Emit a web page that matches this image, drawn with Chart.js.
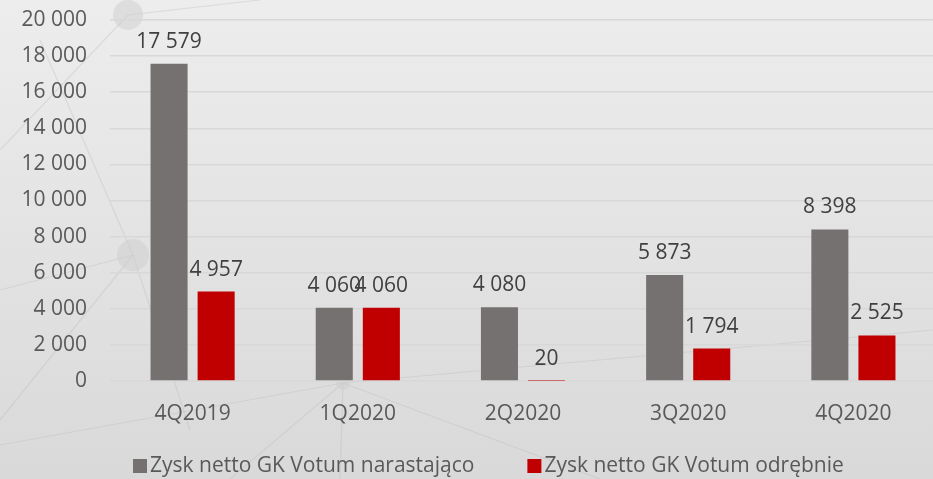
<!DOCTYPE html>
<html>
<head>
<meta charset="utf-8">
<script src="https://cdn.jsdelivr.net/npm/chart.js@4"></script>
<style>
  html, body { margin: 0; padding: 0; overflow: hidden; background: #e6e6e6; }
  #wrap { width: 936px; height: 479px; position: relative; }
</style>
</head>
<body>
<div id="wrap"><canvas id="chart"></canvas></div>
<script>
// data
const quarters = ['4Q2019', '1Q2020', '2Q2020', '3Q2020', '4Q2020'];
const cumulative = [17579, 4060, 4080, 5873, 8398];
const standalone = [4957, 4060, 20, 1794, 2525];
const yTicks = [0, 2000, 4000, 6000, 8000, 10000, 12000, 14000, 16000, 18000, 20000];

const FONT = "'Open Sans', sans-serif";
const fmt = v => String(v).replace(/\B(?=(\d{3})+(?!\d))/g, ' ');

// grey background + faint network decoration
const backdrop = {
  id: 'backdrop',
  beforeDraw(chart) {
    const { ctx, width, height } = chart;
    ctx.save();
    const g = ctx.createLinearGradient(0, 0, 0, height);
    g.addColorStop(0, '#ededed');
    g.addColorStop(1, '#d9d9d9');
    ctx.fillStyle = g;
    ctx.fillRect(0, 0, width, height);

    ctx.strokeStyle = 'rgba(185,185,185,0.35)';
    ctx.lineWidth = 1.2;
    const lines = [
      [0, 150, 128, 15], [128, 15, 260, 0], [0, 290, 133, 255], [133, 255, 0, 420],
      [133, 255, 190, 430], [0, 445, 343, 383], [343, 383, 600, 479], [343, 383, 230, 479],
      [343, 383, 340, 479], [343, 383, 933, 330], [40, 40, 133, 255]
    ];
    lines.forEach(([x1, y1, x2, y2]) => {
      ctx.beginPath(); ctx.moveTo(x1, y1); ctx.lineTo(x2, y2); ctx.stroke();
    });
    ctx.fillStyle = 'rgba(205,205,205,0.5)';
    [[128, 15, 15], [133, 255, 16], [343, 383, 7]].forEach(([x, y, r]) => {
      ctx.beginPath(); ctx.arc(x, y, r, 0, Math.PI * 2); ctx.fill();
    });
    ctx.restore();
  }
};

// value labels above the bars + legend row at the bottom
const overlay = {
  id: 'overlay',
  afterDatasetsDraw(chart) {
    const { ctx } = chart;
    ctx.save();
    ctx.font = `21px ${FONT}`;
    ctx.fillStyle = '#404040';
    ctx.textAlign = 'center';
    ctx.textBaseline = 'alphabetic';
    chart.data.datasets.forEach((ds, i) => {
      chart.getDatasetMeta(i).data.forEach((bar, j) => {
        ctx.fillText(fmt(ds.data[j]), bar.x, bar.y - 16);
      });
    });

    // legend
    ctx.textAlign = 'left';
    ctx.textBaseline = 'middle';
    let x = 133;
    const y = 466;
    chart.data.datasets.forEach(ds => {
      ctx.fillStyle = ds.backgroundColor;
      ctx.fillRect(x, y - 7, 14, 14);
      ctx.fillStyle = '#595959';
      ctx.fillText(ds.label, x + 17, y);
      x += 17 + ctx.measureText(ds.label).width + 53;
    });
    ctx.restore();
  }
};

new Chart(document.getElementById('chart'), {
  type: 'bar',
  data: {
    labels: quarters,
    datasets: [
      {
        label: 'Zysk netto GK Votum narastająco',
        data: cumulative,
        backgroundColor: '#767171',
        categoryPercentage: 0.57,
        barPercentage: 0.787
      },
      {
        label: 'Zysk netto GK Votum odrębnie',
        data: standalone,
        backgroundColor: '#c00000',
        categoryPercentage: 0.57,
        barPercentage: 0.787
      }
    ]
  },
  options: {
    responsive: true,
    maintainAspectRatio: false,
    animation: false,
    layout: { padding: { left: 22, top: 20, right: 0, bottom: 43 } },
    plugins: {
      legend: { display: false },
      tooltip: { enabled: false }
    },
    scales: {
      y: {
        min: 0,
        max: 20000,
        afterBuildTicks: axis => { axis.ticks = yTicks.map(v => ({ value: v })); },
        afterFit: axis => { axis.width = 88; axis.paddingTop = 0; axis.paddingBottom = 0; },
        grid: { color: '#d8d8d8', drawTicks: false, lineWidth: 1.5 },
        border: { display: false },
        ticks: {
          color: '#595959',
          font: { family: FONT, size: 21 },
          padding: 23,
          callback: v => fmt(v)
        }
      },
      x: {
        afterFit: axis => { axis.height = 55; },
        grid: { display: false },
        border: { display: false },
        ticks: {
          color: '#595959',
          font: { family: FONT, size: 21 },
          padding: 12
        }
      }
    }
  },
  plugins: [backdrop, overlay]
});
</script>
</body>
</html>
